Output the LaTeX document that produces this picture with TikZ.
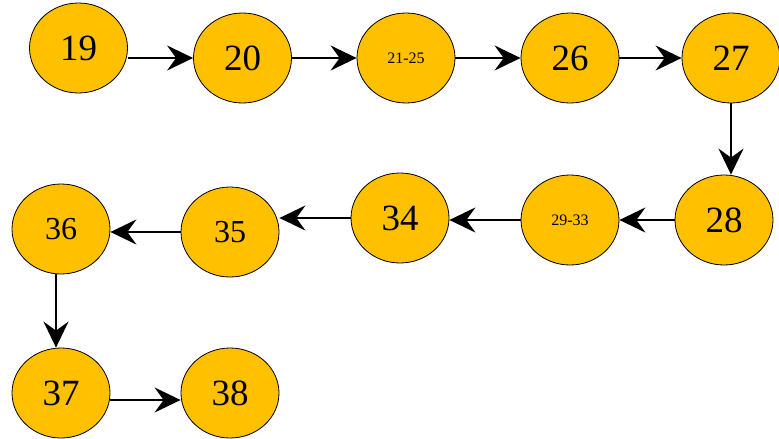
\documentclass[tikz,border=0pt]{standalone}
\usepackage{fontspec}
\setmainfont{Liberation Serif}
\usepackage{tikz}
\usetikzlibrary{arrows.meta,shapes.geometric}
\definecolor{nodeorange}{RGB}{255,192,0}
\tikzset{
  page/.style={ellipse, draw=black, line width=0.8pt, fill=nodeorange,
    minimum width=98pt, minimum height=90pt, inner sep=0pt,
    font=\fontsize{37}{37}\selectfont},
  pagemid/.style={page, font=\fontsize{32}{32}\selectfont},
  pagerange/.style={page, font=\fontsize{16}{16}\selectfont},
  arr/.style={line width=2pt, -{Stealth[length=26pt,width=25pt,inset=9pt]}}
}

\begin{document}
\begin{tikzpicture}[x=1pt,y=-1pt]
			%%%%% START %%%%%
			\useasboundingbox (0,0) rectangle (779,439);
			
			% top row
			\node[page] (n19) at (78.5, 48) {19};
			\node[page] (n20) at (242.5, 58) {20};
			\node[pagerange] (n2125) at (406, 58) {21-25};
			\node[page] (n26) at (570, 58) {26};
			\node[page] (n27) at (731, 58) {27};
			
			% middle row
			\node[page] (n28) at (724, 220) {28};
			\node[pagerange] (n2933) at (570, 220) {29-33};
			\node[page] (n34) at (400, 218) {34};
			\node[pagemid] (n35) at (230, 232) {35};
			\node[pagemid] (n36) at (61, 229) {36};
			
			% bottom row
			\node[page] (n37) at (61, 393) {37};
			\node[page] (n38) at (230, 393) {38};
			
			\draw[arr] (n19.east |- n20) -- (n20);
			\draw[arr] (n20) -- (n2125);
			\draw[arr] (n2125) -- (n26);
			\draw[arr] (n26) -- (n27);
			\draw[arr] (n27.south) -- (n27.south |- n28.north);
			
			\draw[arr] (n28) -- (n2933);
			\draw[arr] (n2933) -- (n34.east |- n2933);
			\draw[arr] (n34) -- (n35.east |- n34);
			\draw[arr] (n35) -- (n35 -| n36.east);
			\draw[arr] (n36.south -| 56,0) -- (n37.north -| 56,0);
			
			\draw[arr] (n37.east |- 0,400) -- (n38.west |- 0,400);
			%%%%% END %%%%%
\end{tikzpicture}
\end{document}
